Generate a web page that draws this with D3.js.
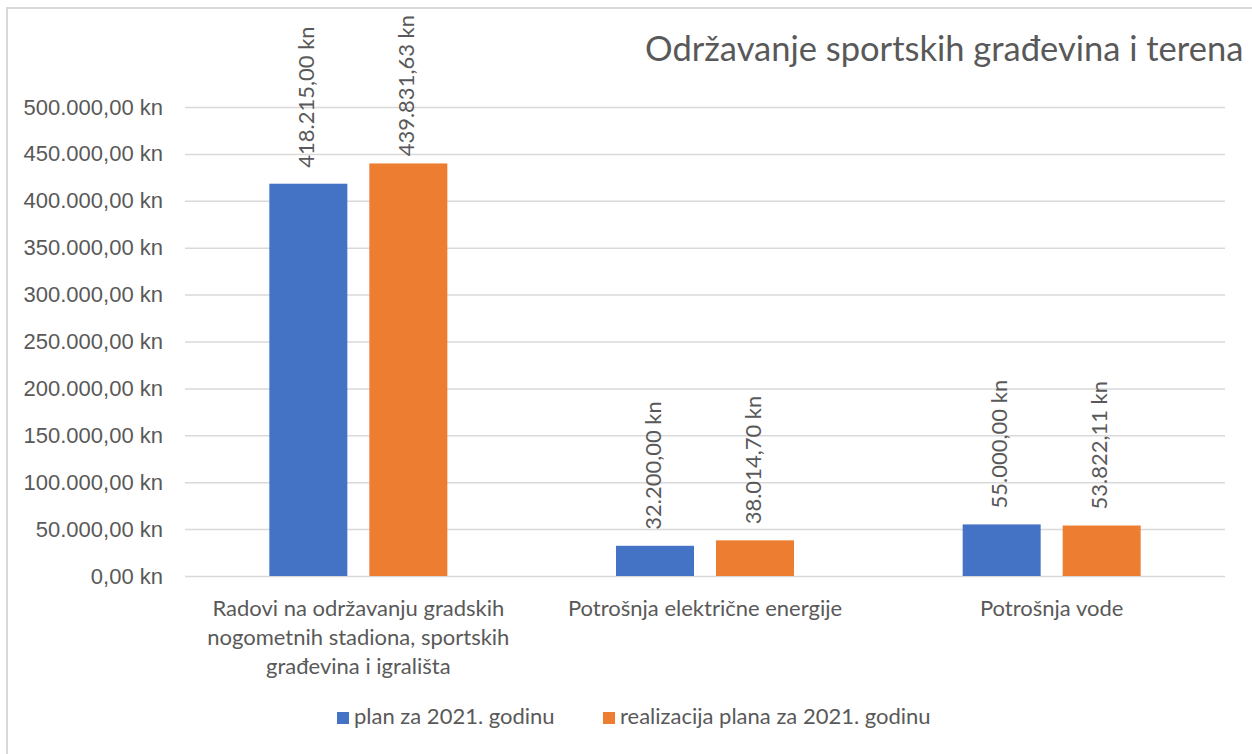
<!DOCTYPE html>
<html>
<head>
<meta charset="utf-8">
<script src="https://cdn.jsdelivr.net/npm/d3@7"></script>
<style>
  body { margin: 0; background: #fff; }
  svg { display: block; font-family: Lato, "Open Sans", sans-serif; }
</style>
</head>
<body>
<div id="chart"></div>
<script>
;(function () {

    // Chart data
    var categories = [
        'Radovi na održavanju gradskih\nnogometnih stadiona, sportskih\ngrađevina i igrališta',
        'Potrošnja električne energije',
        'Potrošnja vode'
    ];
    var seriesNames = ['plan za 2021. godinu', 'realizacija plana za 2021. godinu'];
    var planValues = [418215.00, 32200.00, 55000.00];
    var realValues = [439831.63, 38014.70, 53822.11];
    var yTicks = [0, 50000, 100000, 150000, 200000, 250000, 300000, 350000, 400000, 450000, 500000];
    var title = 'Održavanje sportskih građevina i terena';

    var colors = ['#4472C4', '#ED7D31'];
    var textColor = '#595959';
    var gridColor = '#d9d9d9';

    var width = 1252, height = 754;
    var left = 185, right = 1225, top = 107, bottom = 576;
    var fs = '22px';

    var hr = d3.formatLocale({
        decimal: ',', thousands: '.', grouping: [3], currency: ['', ' kn']
    });
    var fmt = hr.format('$,.2f');

    var rows = categories.map(function (c, i) {
        return { cat: c, values: [planValues[i], realValues[i]] };
    });

    var svg = d3.select('#chart').append('svg')
        .attr('width', width)
        .attr('height', height);

    // outer frame (runs off the right and bottom edge)
    svg.append('rect')
        .attr('x', 7).attr('y', 8)
        .attr('width', width + 20).attr('height', height + 20)
        .attr('fill', '#fff')
        .attr('stroke', gridColor)
        .attr('stroke-width', 2);

    var y = d3.scaleLinear().domain([0, 500000]).range([bottom, top]);
    var x0 = d3.scaleBand().domain(categories).range([left, right]).padding(0);
    var inner = 178;
    var off = (x0.bandwidth() - inner) / 2;
    var x1 = d3.scaleBand().domain([0, 1]).range([off, off + inner]).paddingInner(0.22).paddingOuter(0);

    // gridlines + y labels
    var yAxis = d3.axisLeft(y)
        .tickValues(yTicks)
        .tickFormat(fmt)
        .tickSize(-(right - left))
        .tickPadding(22);

    var ga = svg.append('g')
        .attr('transform', 'translate(' + left + ',0)')
        .call(yAxis);
    ga.select('.domain').remove();
    ga.selectAll('.tick line')
        .attr('stroke', gridColor)
        .attr('stroke-width', 1.5);
    ga.selectAll('.tick text')
        .attr('fill', textColor)
        .style('font-size', fs);

    // bars
    var groups = svg.selectAll('g.cat')
        .data(rows)
        .enter()
        .append('g')
        .attr('class', 'cat')
        .attr('transform', function (d) { return 'translate(' + x0(d.cat) + ',0)'; });

    groups.selectAll('rect')
        .data(function (d) { return d.values; })
        .enter()
        .append('rect')
        .attr('x', function (d, i) { return x1(i); })
        .attr('y', function (d) { return y(d); })
        .attr('width', x1.bandwidth())
        .attr('height', function (d) { return bottom - y(d); })
        .attr('fill', function (d, i) { return colors[i]; });

    // value labels, rotated
    groups.selectAll('text.val')
        .data(function (d) { return d.values; })
        .enter()
        .append('text')
        .attr('class', 'val')
        .attr('fill', textColor)
        .style('font-size', fs)
        .attr('dominant-baseline', 'middle')
        .text(function (d) { return fmt(d); })
        .each(function (d, i) {
            var len = this.getComputedTextLength();
            var ty = Math.max(y(d) - 16, 15 + len);
            var tx = x1(i) + x1.bandwidth() / 2;
            d3.select(this).attr('transform', 'translate(' + tx + ',' + ty + ') rotate(-90)');
        });

    // category labels
    svg.selectAll('text.catlab')
        .data(categories)
        .enter()
        .append('text')
        .attr('class', 'catlab')
        .attr('text-anchor', 'middle')
        .attr('fill', textColor)
        .style('font-size', fs)
        .each(function (c) {
            var t = d3.select(this);
            c.split('\n').forEach(function (line, k) {
                t.append('tspan')
                    .attr('x', x0(c) + x0.bandwidth() / 2)
                    .attr('y', 616 + k * 29)
                    .text(line);
            });
        });

    // title
    svg.append('text')
        .attr('x', 645)
        .attr('y', 61)
        .attr('fill', textColor)
        .style('font-size', '34.5px')
        .text(title);

    // legend
    var legX = [337, 603];
    var leg = svg.selectAll('g.leg')
        .data(seriesNames)
        .enter()
        .append('g')
        .attr('class', 'leg')
        .attr('transform', function (d, i) { return 'translate(' + legX[i] + ',712)'; });
    leg.append('rect')
        .attr('width', 12).attr('height', 12)
        .attr('fill', function (d, i) { return colors[i]; });
    leg.append('text')
        .attr('x', 17)
        .attr('y', 6)
        .attr('dominant-baseline', 'middle')
        .attr('fill', textColor)
        .style('font-size', fs)
        .text(function (d) { return d; });

})();
</script>
</body>
</html>
